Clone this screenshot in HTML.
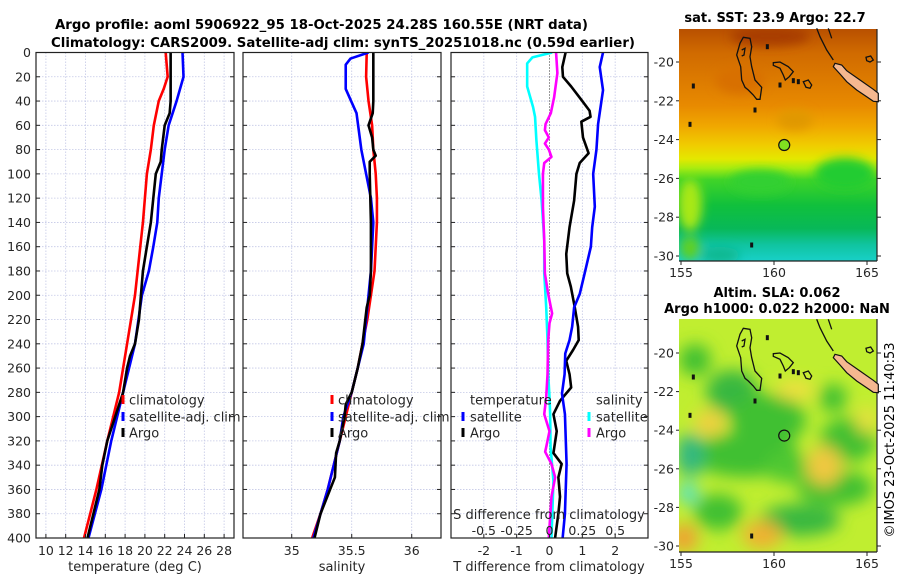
<!DOCTYPE html>
<html><head><meta charset="utf-8">
<style>
html,body{margin:0;padding:0;background:#fff;}
svg{display:block;font-family:"DejaVu Sans","Liberation Sans",sans-serif;}
</style></head>
<body>
<svg id="fig" width="900" height="580" viewBox="0 0 900 580" xmlns="http://www.w3.org/2000/svg">
<defs>
<linearGradient id="sstGrad" x1="0" y1="0" x2="0" y2="1">
<stop offset="0" stop-color="#b85000"/>
<stop offset="0.1" stop-color="#d06a00"/>
<stop offset="0.33" stop-color="#e88a00"/>
<stop offset="0.42" stop-color="#f0a800"/>
<stop offset="0.5" stop-color="#f0cc00"/>
<stop offset="0.56" stop-color="#e4e800"/>
<stop offset="0.6" stop-color="#a8ec10"/>
<stop offset="0.65" stop-color="#40d428"/>
<stop offset="0.76" stop-color="#10c03c"/>
<stop offset="0.86" stop-color="#08b858"/>
<stop offset="0.93" stop-color="#10c4a0"/>
<stop offset="1" stop-color="#18d0c8"/>
</linearGradient>
<filter id="blur4" x="-50%" y="-50%" width="200%" height="200%"><feGaussianBlur stdDeviation="5"/></filter>
<filter id="blur8" x="-50%" y="-50%" width="200%" height="200%"><feGaussianBlur stdDeviation="8"/></filter>
<clipPath id="clipMap1"><rect x="679" y="29" width="198" height="232"/></clipPath>
<clipPath id="clipMap2"><rect x="679" y="319" width="198" height="233"/></clipPath>
<clipPath id="clipP1"><rect x="36" y="52.5" width="198" height="485.5"/></clipPath>
<clipPath id="clipP2"><rect x="243" y="52.5" width="198" height="485.5"/></clipPath>
<clipPath id="clipP3"><rect x="451" y="52.5" width="197" height="485.5"/></clipPath>
</defs>

<text x="55" y="29" font-size="13" font-weight="bold" textLength="533" lengthAdjust="spacingAndGlyphs">Argo profile: aoml 5906922_95 18-Oct-2025 24.28S 160.55E (NRT data)</text>
<text x="51" y="47" font-size="13" font-weight="bold" textLength="584" lengthAdjust="spacingAndGlyphs">Climatology: CARS2009. Satellite-adj clim: synTS_20251018.nc (0.59d earlier)</text>

<!-- Map 1 -->
<g clip-path="url(#clipMap1)">
<rect x="679" y="29" width="198" height="232" fill="url(#sstGrad)"/>
<g filter="url(#blur4)">
<ellipse cx="770" cy="36" rx="40" ry="10" fill="#a83c00"/>
<ellipse cx="690" cy="205" rx="12" ry="26" fill="#a8e818"/>
<ellipse cx="760" cy="182" rx="30" ry="12" fill="#30d030"/>
<ellipse cx="845" cy="174" rx="30" ry="16" fill="#20cc30"/>
<ellipse cx="720" cy="255" rx="20" ry="8" fill="#10b890"/>
<ellipse cx="740" cy="80" rx="25" ry="14" fill="#d87000"/>
<ellipse cx="795" cy="120" rx="18" ry="10" fill="#e09800"/>
<ellipse cx="690" cy="248" rx="10" ry="12" fill="#60d020"/>
</g>
</g>
<text x="775" y="22" font-size="13" font-weight="bold" text-anchor="middle">sat. SST: 23.9 Argo: 22.7</text>

<!-- Map 2 -->
<g clip-path="url(#clipMap2)">
<rect x="679" y="319" width="198" height="233" fill="#c0ee30"/>
<g filter="url(#blur8)">
<ellipse cx="695" cy="360" rx="16" ry="16" fill="#40c030"/>
<ellipse cx="732" cy="392" rx="26" ry="22" fill="#38b840"/>
<ellipse cx="768" cy="420" rx="38" ry="26" fill="#40c030"/>
<ellipse cx="745" cy="455" rx="55" ry="22" fill="#40c030"/>
<ellipse cx="833" cy="398" rx="14" ry="14" fill="#40c030"/>
<ellipse cx="848" cy="440" rx="28" ry="22" fill="#40c030"/>
<ellipse cx="787" cy="467" rx="22" ry="16" fill="#50c830"/>
<ellipse cx="800" cy="520" rx="40" ry="16" fill="#38b840"/>
<ellipse cx="718" cy="512" rx="24" ry="18" fill="#40c030"/>
<ellipse cx="835" cy="488" rx="38" ry="18" fill="#40c030"/>
<ellipse cx="690" cy="455" rx="14" ry="22" fill="#30b880"/>
<ellipse cx="688" cy="493" rx="9" ry="10" fill="#40e0e0"/>
<ellipse cx="710" cy="423" rx="16" ry="13" fill="#f0d040"/>
<ellipse cx="795" cy="390" rx="20" ry="10" fill="#f0e040"/>
<ellipse cx="824" cy="466" rx="18" ry="20" fill="#f0c840"/>
<ellipse cx="762" cy="535" rx="20" ry="14" fill="#f0b030"/>
<ellipse cx="684" cy="538" rx="14" ry="14" fill="#f0a030"/>
<ellipse cx="866" cy="420" rx="10" ry="14" fill="#e8e040"/>
</g>
</g>
<text x="777" y="297" font-size="13" font-weight="bold" text-anchor="middle">Altim. SLA: 0.062</text>
<text x="777" y="313" font-size="13" font-weight="bold" text-anchor="middle">Argo h1000: 0.022 h2000: NaN</text>
<text x="0" y="0" font-size="13" text-anchor="middle" transform="translate(894,440) rotate(-90)">©IMOS 23-Oct-2025 11:40:53</text>

<g id="plots"></g>
</svg>

<script>
// ===== Panel 1: temperature =====
const climTDepth = [0,20,30,40,60,80,100,140,200,240,280,320,360,400];
const climT = [22.1,22.3,21.9,21.4,20.9,20.6,20.2,19.8,19.0,18.2,17.4,16.2,15.1,13.85];
const satTDepth = [0,20,40,60,80,100,120,140,160,180,200,240,280,320,360,400];
const satT = [23.8,23.9,23.2,22.4,22.0,21.7,21.4,21.25,20.85,20.4,19.7,19.0,17.8,16.6,15.6,14.3];
const argoTDepth = [0,20,40,50,60,80,90,100,120,140,160,180,200,220,240,250,260,280,300,320,340,360,380,400];
const argoT = [22.6,22.6,22.6,22.5,22.0,21.7,21.6,21.1,20.85,20.6,20.2,19.8,19.6,19.4,19.0,18.5,18.2,17.8,17.0,16.2,15.7,15.4,14.8,14.2];
const tempTicks = [10,12,14,16,18,20,22,24,26,28];
const depthTicks = [0,20,40,60,80,100,120,140,160,180,200,220,240,260,280,300,320,340,360,380,400];

// ===== Panel 2: salinity =====
const climSDepth = [0,20,40,60,80,100,120,140,160,180,200,220,240,260,280,300,320,340,360,380,400];
const climS = [35.625,35.62,35.64,35.67,35.68,35.70,35.71,35.71,35.70,35.69,35.66,35.63,35.59,35.55,35.50,35.45,35.40,35.35,35.30,35.24,35.17];
const satSDepth = [0,5,10,30,50,80,100,120,140,160,180,200,220,240,260,280,300,320,340,360,380,400];
const satS = [35.64,35.49,35.45,35.45,35.54,35.58,35.62,35.66,35.68,35.67,35.66,35.64,35.62,35.60,35.55,35.50,35.43,35.40,35.35,35.30,35.24,35.18];
const argoSDepth = [0,20,40,50,60,70,80,85,90,100,140,180,200,210,240,260,280,290,300,320,330,350,360,380,400];
const argoS = [35.68,35.68,35.68,35.675,35.64,35.67,35.68,35.70,35.65,35.65,35.66,35.66,35.65,35.625,35.59,35.55,35.50,35.45,35.44,35.40,35.37,35.36,35.32,35.24,35.19];
const salTicks = [35,35.5,36];
const salTickLabels = ["35","35.5","36"];

// ===== Panel 3: differences =====
const dArgoTDepth = [0,12,20,28,39,48,53,57,70,83,91,100,122,144,166,182,193,210,226,237,245,254,265,276,287,298,312,330,339,350,366,380,400];
const dArgoT = [0.49,0.39,0.41,0.66,0.97,1.22,1.25,0.97,1.02,1.19,0.92,0.82,0.75,0.61,0.51,0.54,0.65,0.77,0.87,0.89,0.72,0.51,0.61,0.66,0.32,0.12,0.22,0.12,0.37,0.27,0.32,0.27,0.17];
const dSatTDepth = [0,12,31,59,80,100,127,144,160,182,199,210,226,237,248,265,281,298,339,380,400];
const dSatT = [1.63,1.53,1.63,1.48,1.43,1.33,1.38,1.30,1.26,1.07,0.92,0.75,0.69,0.61,0.48,0.46,0.38,0.47,0.52,0.47,0.40];
const dSatSDepth = [0,4,9,28,45,53,72,100,122,155,182,210,237,265,284,298,325,353,400];
const dSatS = [0.02,-0.13,-0.17,-0.17,-0.125,-0.11,-0.10,-0.08,-0.06,-0.04,-0.04,-0.025,-0.015,-0.01,0,0.005,0.008,0.03,0.015];
const dArgoSDepth = [0,17,37,50,59,64,70,75,80,86,91,100,127,155,182,199,215,223,237,265,284,298,312,325,329,339,350,366,386,400];
const dArgoS = [0.05,0.06,0.035,0.01,-0.03,-0.035,-0.005,-0.035,-0.005,0.015,-0.04,-0.05,-0.05,-0.04,-0.035,-0.01,0.02,0.0,-0.01,-0.015,-0.025,-0.04,0,-0.025,-0.033,0.015,0.043,0.015,0.003,-0.005];
const dTTicks = [-2,-1,0,1,2];
const dSTicks = [-0.5,-0.25,0,0.25,0.5];
const dSTickLabels = ["-0.5","-0.25","0","0.25","0.5"];

// ===== Maps =====
const latTicks = [-20,-22,-24,-26,-28,-30];
const lonTicks = [155,160,165];
const argoLon = 160.55;
const argoLat = -24.28;

const NS = "http://www.w3.org/2000/svg";
const root = document.getElementById('plots');
function mk(tag, attrs, parent){
  const e = document.createElementNS(NS, tag);
  for (const k in attrs) e.setAttribute(k, attrs[k]);
  (parent||root).appendChild(e);
  return e;
}
const Y0 = 52.5, Y1 = 538;
function yD(d){ return Y0 + (d/400)*(Y1-Y0); }
function makeX(x0,x1,v0,v1){ return v => x0 + (v-v0)/(v1-v0)*(x1-x0); }

const P1 = {x0:36, x1:234}, P2 = {x0:243, x1:441}, P3 = {x0:451, x1:648};
const xT = makeX(P1.x0,P1.x1,9,29);
const xS = makeX(P2.x0,P2.x1,34.594,36.244);
const xdT = makeX(P3.x0,P3.x1,-3,3);
const xdS = makeX(P3.x0,P3.x1,-0.75,0.75);

function grid(P, xs, name){
  const g = mk('g',{});
  
  
  xs.forEach(x=>{ mk('line',{x1:x,x2:x,y1:Y0,y2:Y1,stroke:'#c4c8e6','stroke-width':0.8,'stroke-dasharray':'1.5,1.5'},g); });
  depthTicks.forEach(d=>{ if(d>0&&d<400) mk('line',{x1:P.x0,x2:P.x1,y1:yD(d),y2:yD(d),stroke:'#c4c8e6','stroke-width':0.8,'stroke-dasharray':'1.5,1.5'},g); });
}
function frame(P, xs, name){
  const g = mk('g',{});
  
  
  mk('rect',{x:P.x0,y:Y0,width:P.x1-P.x0,height:Y1-Y0,fill:'none',stroke:'#222','stroke-width':1.2},g);
  depthTicks.forEach(d=>{
    mk('line',{x1:P.x0,x2:P.x0+4,y1:yD(d),y2:yD(d),stroke:'#222','stroke-width':1},g);
    mk('line',{x1:P.x1-4,x2:P.x1,y1:yD(d),y2:yD(d),stroke:'#222','stroke-width':1},g);
  });
  xs.forEach(x=>{ mk('line',{x1:x,x2:x,y1:Y1,y2:Y1-4,stroke:'#222','stroke-width':1},g); });
}
function line(xf, depths, vals, color, name, clip){
  let d = '';
  for (let i=0;i<depths.length;i++){
    d += (i?'L':'M') + xf(vals[i]).toFixed(2) + ',' + yD(depths[i]).toFixed(2);
  }
  const p = mk('path',{d:d,fill:'none',stroke:color,'stroke-width':2.6,'stroke-linejoin':'round','clip-path':clip});
  
  
}
function txt(x,y,s,size,anchor,name,extra){
  const t = mk('text',Object.assign({x:x,y:y,'font-size':size,'text-anchor':anchor||'start',fill:'#262626'},extra||{}));
  t.textContent = s;
  
  
  return t;
}
function legendEntry(mx, tx, y, color, label, name){
  const g = mk('g',{});
  
  
  mk('line',{x1:mx,x2:mx,y1:y-5,y2:y+4,stroke:color,'stroke-width':3},g);
  const t = mk('text',{x:tx,y:y+4.5,'font-size':13,fill:'#262626'},g);
  t.textContent = label;
}

// Panel 1
const p1x = tempTicks.map(xT);
grid(P1, p1x, 'temperature-panel');
line(xT, climTDepth, climT, '#ff0000', 'climatology-temperature-line', 'url(#clipP1)');
line(xT, satTDepth, satT, '#0000ff', 'satellite-temperature-line', 'url(#clipP1)');
line(xT, argoTDepth, argoT, '#000000', 'argo-temperature-line', 'url(#clipP1)');
frame(P1, p1x, 'temperature-panel');
depthTicks.forEach(d=>{ txt(31, yD(d)+4.5, String(d), 12.5, 'end', 'depth-tick-label'); });
tempTicks.forEach(v=>{ txt(xT(v), 555, String(v), 12.5, 'middle', 'temperature-tick-label'); });
txt(135, 571, 'temperature (deg C)', 13, 'middle', 'temperature-axis-title');
legendEntry(123,129,400,'#ff0000','climatology','legend-climatology');
legendEntry(123,129,417,'#0000ff','satellite-adj. clim','legend-satellite-adj-clim');
legendEntry(123,129,433,'#000000','Argo','legend-argo');

// Panel 2
const p2x = salTicks.map(xS);
grid(P2, p2x, 'salinity-panel');
line(xS, climSDepth, climS, '#ff0000', 'climatology-salinity-line', 'url(#clipP2)');
line(xS, satSDepth, satS, '#0000ff', 'satellite-salinity-line', 'url(#clipP2)');
line(xS, argoSDepth, argoS, '#000000', 'argo-salinity-line', 'url(#clipP2)');
frame(P2, p2x, 'salinity-panel');
salTicks.forEach((v,i)=>{ txt(xS(v), 555, salTickLabels[i], 12.5, 'middle', 'salinity-tick-label'); });
txt(342, 571, 'salinity', 13, 'middle', 'salinity-axis-title');
legendEntry(332,338,400,'#ff0000','climatology','legend-climatology-2');
legendEntry(332,338,417,'#0000ff','satellite-adj. clim','legend-satellite-adj-clim-2');
legendEntry(332,338,433,'#000000','Argo','legend-argo-2');

// Panel 3
const p3x = dTTicks.filter(v=>v!==0).map(xdT);
grid(P3, p3x, 'difference-panel');
const zl = mk('line',{x1:xdT(0),x2:xdT(0),y1:Y0,y2:Y1,stroke:'#333','stroke-width':1,'stroke-dasharray':'1,2'});


line(xdS, dSatSDepth, dSatS, '#00ffff', 'satellite-salinity-difference-line', 'url(#clipP3)');
line(xdS, dArgoSDepth, dArgoS, '#ff00ff', 'argo-salinity-difference-line', 'url(#clipP3)');
line(xdT, dArgoTDepth, dArgoT, '#000000', 'argo-temperature-difference-line', 'url(#clipP3)');
line(xdT, dSatTDepth, dSatT, '#0000ff', 'satellite-temperature-difference-line', 'url(#clipP3)');
frame(P3, dTTicks.map(xdT), 'difference-panel');
dTTicks.forEach(v=>{ txt(xdT(v), 555, String(v), 12.5, 'middle', 'temperature-difference-tick-label'); });
txt(549, 571, 'T difference from climatology', 13, 'middle', 'temperature-difference-axis-title');
dSTicks.forEach((v,i)=>{ txt(xdS(v), 535, dSTickLabels[i], 12.5, 'middle', 'salinity-difference-tick-label'); });
txt(549, 519, 'S difference from climatology', 13, 'middle', 'salinity-difference-axis-title');
txt(470, 404.5, 'temperature', 13, 'start', 'legend-temperature-header');
txt(596, 404.5, 'salinity', 13, 'start', 'legend-salinity-header');
legendEntry(463,470,417,'#0000ff','satellite','legend-temperature-satellite');
legendEntry(463,470,433,'#000000','Argo','legend-temperature-argo');
legendEntry(589,596,417,'#00ffff','satellite','legend-salinity-satellite');
legendEntry(589,596,433,'#ff00ff','Argo','legend-salinity-argo');

// Maps
function mapAxes(top, bottom, latY0, latStep, name){
  const lonX = v => 681 + (v-155)*18.6;
  const latY = v => latY0 + (-20 - v)/2*latStep;
  const g = mk('g',{});
  
  
  mk('line',{x1:679,x2:877,y1:bottom,y2:bottom,stroke:'#222','stroke-width':1.2},g);
  mk('line',{x1:877,x2:877,y1:top,y2:bottom,stroke:'#222','stroke-width':1.2},g);
  latTicks.forEach(v=>{
    mk('line',{x1:877,x2:881,y1:latY(v),y2:latY(v),stroke:'#222','stroke-width':1},g);
    mk('line',{x1:679,x2:676,y1:latY(v),y2:latY(v),stroke:'#222','stroke-width':1},g);
    txt(674, latY(v)+4.5, String(v), 12.5, 'end', name+'-lat-label');
  });
  lonTicks.forEach(v=>{
    mk('line',{x1:lonX(v),x2:lonX(v),y1:bottom,y2:bottom+4,stroke:'#222','stroke-width':1},g);
    txt(lonX(v), bottom+16, String(v), 12.5, 'middle', name+'-lon-label');
  });
  const cg = mk('g',{transform:'translate(0,'+(latY0-62)+')'},g);
  
  
  const P = pts => pts.map(p=>(660+p[0]/3).toFixed(1)+','+(p[1]/3).toFixed(1)).join(' ');
  mk('polygon',{points:P([[525,190],[545,195],[560,212],[600,240],[640,268],[655,280],[655,305],[640,304],[620,290],[590,270],[560,245],[540,222],[520,200]]),fill:'#f5b890',stroke:'#111','stroke-width':1.2},cg);
  mk('polygon',{points:P([[250,112],[270,115],[275,140],[270,170],[275,200],[285,240],[305,262],[300,298],[290,298],[280,285],[265,270],[255,262],[245,240],[242,200],[230,165],[240,130]]),fill:'none',stroke:'#111','stroke-width':1.3},cg);
  mk('polygon',{points:P([[340,188],[360,186],[385,200],[400,215],[388,230],[376,240],[370,225],[360,205],[340,196]]),fill:'none',stroke:'#111','stroke-width':1.3},cg);
  mk('polygon',{points:P([[430,245],[445,240],[455,255],[450,265],[438,262]]),fill:'none',stroke:'#111','stroke-width':1.3},cg);
  mk('polygon',{points:P([[618,172],[632,168],[640,180],[630,186],[620,182]]),fill:'none',stroke:'#111','stroke-width':1.3},cg);
  mk('polyline',{points:P([[470,85],[480,110],[500,150],[520,180]]),fill:'none',stroke:'#111','stroke-width':1.3},cg);
  mk('polyline',{points:P([[505,85],[515,115]]),fill:'none',stroke:'#111','stroke-width':1.3},cg);
  mk('polyline',{points:P([[245,150],[255,145],[252,165],[245,168]]),fill:'none',stroke:'#111','stroke-width':1.3},cg);
  [[322,140],[100,258],[360,255],[400,242],[415,245],[285,330],[90,373],[275,735]].forEach(p=>{
    mk('rect',{x:660+p[0]/3-1.5,y:p[1]/3-2.5,width:3,height:5,fill:'#111'},cg);
  });
  const c = mk('circle',{cx:lonX(argoLon),cy:latY(argoLat),r:5.5,fill:(name==='sst-map'?'#80e020':'none'),stroke:'#111','stroke-width':1.2},g);
  
  
}
mapAxes(29, 261, 62, 38.8, 'sst-map');
mapAxes(319, 552, 353, 38.6, 'sla-map');
</script>
</body></html>
